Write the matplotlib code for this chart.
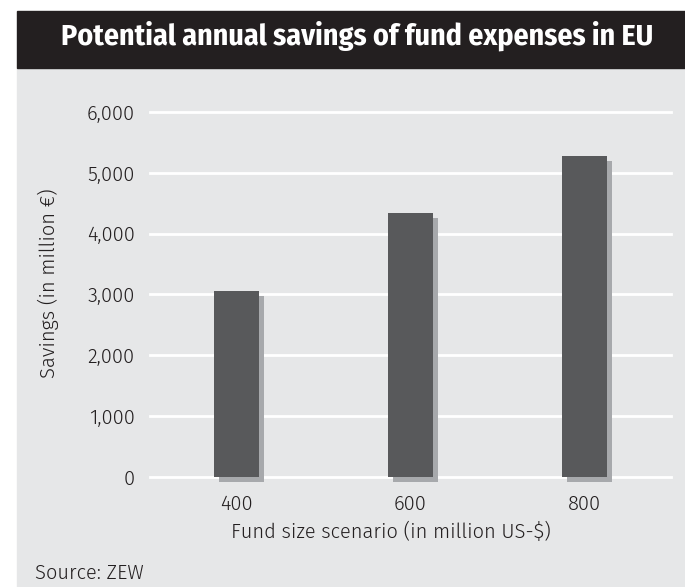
import matplotlib
matplotlib.use("Agg")
import matplotlib.pyplot as plt
import matplotlib.transforms as mtransforms
from matplotlib.patches import Rectangle

# Einsparpotenzial bei Fondskosten in der EU (Mio. EUR)
scenarios = ["400", "600", "800"]
savings = [3050, 4340, 5270]
yticks = [0, 1000, 2000, 3000, 4000, 5000, 6000]
ytick_labels = ["0", "1,000", "2,000", "3,000", "4,000", "5,000", "6,000"]

W, H = 685, 587
BG = "#e6e7e8"
BAR = "#58595b"
SHADOW = "#a7a9ac"
DARK = "#231f20"
TEXT = "#231f20"
FS = 14.5

plt.rcParams["font.family"] = ["Fira Sans", "DejaVu Sans"]
plt.rcParams["font.weight"] = 300

fig = plt.figure(figsize=(W / 100, H / 100), dpi=100)


def fx(px):
    return px / W


def fy(py):
    return 1 - py / H


# grey panel and black title band
fig.patches.append(Rectangle((fx(17), 0), 1 - fx(17), fy(68), transform=fig.transFigure,
                             color=BG, zorder=-10))
fig.patches.append(Rectangle((fx(17), fy(68)), 1 - fx(17), fy(11) - fy(68),
                             transform=fig.transFigure, color=DARK, zorder=-10))
fig.text(fx(357), fy(45), "Potential annual savings of fund expenses in EU",
         ha="center", va="baseline", color="white", fontsize=21.5, fontweight="bold",
         family=["Fira Sans Condensed", "DejaVu Sans"])

ax = fig.add_axes([fx(150), fy(488.9), fx(671) - fx(150), fy(99.8) - fy(488.9)])
ax.set_facecolor("none")
for s in ax.spines.values():
    s.set_visible(False)

x = list(range(len(scenarios)))
shadow_tr = mtransforms.offset_copy(ax.transData, fig=fig, x=5, y=-5, units="dots")
ax.bar(x, savings, width=0.26, color=SHADOW, transform=shadow_tr, zorder=2, clip_on=False)
ax.bar(x, savings, width=0.26, color=BAR, zorder=3)

for v in yticks:
    ax.axhline(v, color="white", lw=2, zorder=1, clip_on=False)

ax.set_xlim(-0.5, 2.5)
ax.set_ylim(-200, 6200)
ax.set_yticks(yticks)
ax.set_yticklabels(ytick_labels)
ax.set_xticks(x)
ax.set_xticklabels(scenarios)
ax.tick_params(length=0, labelsize=FS, labelcolor=TEXT)
ax.tick_params(axis="y", pad=11)
ax.tick_params(axis="x", pad=4)

fig.text(fx(391), fy(532), "Fund size scenario (in million US-$)", ha="center", va="center",
         fontsize=FS, color=TEXT)
fig.text(fx(48), fy(283.5), "Savings (in million €)", ha="center", va="center",
         rotation=90, fontsize=FS, color=TEXT)
fig.text(fx(35), fy(573), "Source: ZEW", ha="left", va="center", fontsize=FS, color=TEXT)

fig.savefig("out.png", dpi=100)
